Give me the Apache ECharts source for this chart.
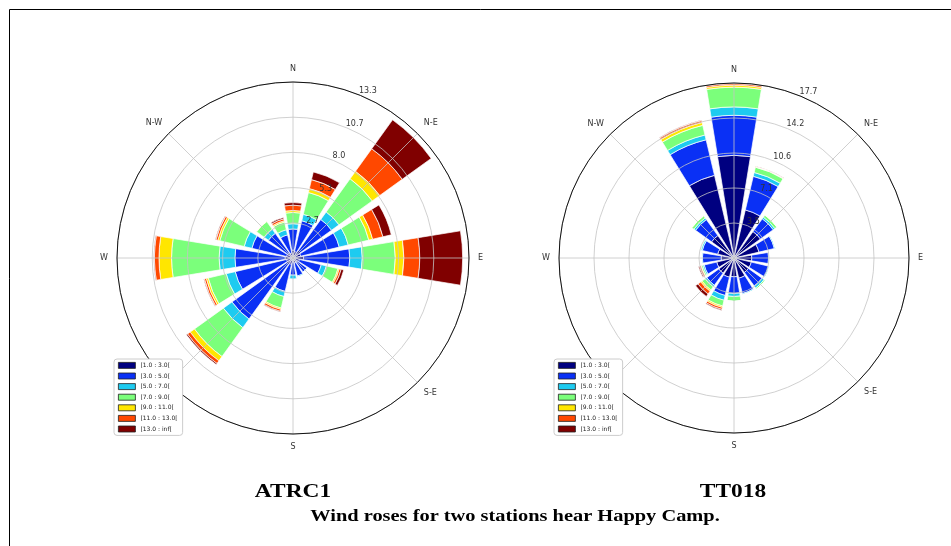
<!DOCTYPE html>
<html><head><meta charset="utf-8">
<script src="https://cdn.jsdelivr.net/npm/echarts@6/dist/echarts.min.js"></script>
<style>html,body{margin:0;padding:0;background:#fff}#c{width:951px;height:546px}</style>
</head><body><div id="c"></div>
<script>
// 16 wind directions (clockwise from North)
const directions = ['N','NNE','NE','ENE','E','ESE','SE','SSE','S','SSW','SW','WSW','W','WNW','NW','NNW'];
const compassLabels = ['N','N-E','E','S-E','S','S-W','W','N-W'];
const speedBins = ['[1.0 : 3.0[','[3.0 : 5.0[','[5.0 : 7.0[','[7.0 : 9.0[','[9.0 : 11.0[','[11.0 : 13.0[','[13.0 : inf['];
const binColors = ['#000080','#0a30f5','#1ecbf0','#7bff7b','#ffe600','#ff4800','#800000'];

// ATRC1 frequency (%) per speed bin, for each direction
const atrc1_b1 = [0.6,0.5,0.7,0.6,0.8,0.5,0.4,0.4,0.3,0.5,0.6,0.5,0.6,0.5,0.5,0.4];
const atrc1_b2 = [1.6,2.4,2.9,3.0,3.5,1.7,0.9,1.0,1.0,2.1,5.1,4.0,3.8,2.7,1.8,1.4];
const atrc1_b3 = [0.4,0.5,0.7,0.7,0.95,0.4,0.05,0.1,0.3,0.4,0.8,0.7,1.2,0.6,0.4,0.4];
const atrc1_b4 = [0.85,1.7,3.1,1.6,2.5,0.9,0,0,0.05,0.9,2.7,1.4,3.6,1.9,0.7,0.6];
const atrc1_b5 = [0.15,0.3,0.7,0.3,0.65,0.1,0,0,0,0.1,0.4,0.15,0.95,0.15,0.05,0.1];
const atrc1_b6 = [0.4,0.7,2.1,0.8,1.2,0.15,0,0,0,0.15,0.25,0.15,0.35,0.15,0,0.15];
const atrc1_b7 = [0.2,0.6,2.7,0.65,3.25,0.2,0,0,0,0.05,0.1,0.05,0.05,0.05,0,0.1];

// TT018 frequency (%) per speed bin, for each direction
const tt018_b1 = [10.4,5.0,3.3,2.6,1.8,1.8,1.8,2.1,1.9,2.0,1.9,1.8,1.3,1.7,2.8,8.6];
const tt018_b2 = [4.05,3.5,1.6,1.6,1.7,1.8,1.7,1.6,1.7,1.9,1.5,1.3,1.9,1.6,2.0,3.7];
const tt018_b3 = [0.85,0.4,0.2,0.1,0.1,0.1,0.25,0.1,0.3,0.5,0.2,0.15,0.1,0.15,0.2,0.5];
const tt018_b4 = [2.0,0.55,0.25,0.05,0.05,0.05,0.15,0.05,0.5,0.6,0.4,0.15,0.05,0.1,0.25,1.0];
const tt018_b5 = [0.2,0.05,0.05,0,0,0,0,0,0,0.15,0.15,0.05,0,0,0.05,0.3];
const tt018_b6 = [0.15,0.02,0,0,0,0,0,0,0,0.2,0.35,0.15,0,0,0,0.2];
const tt018_b7 = [0.05,0.03,0,0,0,0,0,0,0,0.1,0.3,0.1,0,0,0,0.05];

// radial ring steps (5 rings each)
const ringStepL = 2.666;
const ringStepR = 3.544;

const atrc1 = [atrc1_b1,atrc1_b2,atrc1_b3,atrc1_b4,atrc1_b5,atrc1_b6,atrc1_b7];
const tt018 = [tt018_b1,tt018_b2,tt018_b3,tt018_b4,tt018_b5,tt018_b6,tt018_b7];

const roses = [
  {center:[293,258], radius:176, step:ringStepL, data:atrc1, stack:'L', legendLeft:114},
  {center:[734,258], radius:175, step:ringStepR, data:tt018, stack:'R', legendLeft:554}
];

const polar = [], angleAxis = [], radiusAxis = [], series = [], legend = [];
roses.forEach((r, k) => {
  const max = r.step * 5;
  const base = k * 3;
  // 0: bars, 1: grid, 2: radial labels
  for (let j = 0; j < 3; j++) polar.push({center:r.center, radius:r.radius});
  angleAxis.push({polarIndex:base, type:'category', data:directions, startAngle:101.25, clockwise:true, show:false});
  radiusAxis.push({polarIndex:base, type:'value', min:0, max:max, show:false});
  angleAxis.push({polarIndex:base+1, type:'value', min:0, max:360, interval:45, startAngle:90, clockwise:true, z:5,
    axisLine:{show:true, lineStyle:{color:'#111', width:1}},
    axisTick:{show:false},
    axisLabel:{show:true, margin:9, fontSize:8, color:'#333', fontFamily:'DejaVu Sans',
      formatter: v => (v >= 360 ? '' : compassLabels[Math.round(v/45)])},
    splitLine:{show:true, lineStyle:{color:'#c4c4c4', width:0.8}}
  });
  radiusAxis.push({polarIndex:base+1, type:'value', min:0, max:max, interval:r.step, z:5,
    axisLine:{show:false}, axisTick:{show:false}, axisLabel:{show:false},
    splitLine:{show:true, lineStyle:{color:'#c4c4c4', width:0.8}}
  });
  angleAxis.push({polarIndex:base+2, type:'value', min:0, max:360, startAngle:68, show:false});
  radiusAxis.push({polarIndex:base+2, type:'value', min:0, max:max, interval:r.step, z:6,
    axisLine:{show:false}, axisTick:{show:false}, splitLine:{show:false},
    axisLabel:{show:true, margin:0, align:'left', verticalAlign:'bottom', fontSize:8, color:'#333', fontFamily:'DejaVu Sans',
      formatter: v => (v < 0.01 ? '' : v.toFixed(1))}
  });
  r.data.forEach((arr, i) => {
    series.push({type:'bar', coordinateSystem:'polar', polarIndex:base, name:speedBins[i], stack:r.stack,
      data:arr, barCategoryGap:'18%', itemStyle:{color:binColors[i], borderColor:'#fff', borderWidth:0.7},
      emphasis:{disabled:true}, animation:false});
  });
  legend.push({data:speedBins, orient:'vertical', left:r.legendLeft, top:359, itemWidth:17, itemHeight:6, itemGap:3.8,
    icon:'rect', selectedMode:false, z:10,
    textStyle:{fontSize:6, color:'#222', fontFamily:'DejaVu Sans'},
    backgroundColor:'#fff', borderColor:'#ccc', borderWidth:1, borderRadius:3, padding:[3,5,3,4],
    itemStyle:{borderColor:'#222', borderWidth:0.8}});
});

const chart = echarts.init(document.getElementById('c'), null, {renderer:'canvas'});
chart.setOption({
  animation:false,
  backgroundColor:'#fff',
  polar, angleAxis, radiusAxis, series, legend,
  graphic:[
    {type:'rect', silent:true, z:0, shape:{x:9.5, y:9.5, width:1000, height:600}, style:{fill:'none', stroke:'#000', lineWidth:1}},
    {type:'text', x:293, y:492, scaleX:1.3, z:10, style:{text:'ATRC1', fontSize:18, fontWeight:'bold', fontFamily:'Liberation Serif', fill:'#000', align:'center', verticalAlign:'middle'}},
    {type:'text', x:733, y:492, scaleX:1.3, z:10, style:{text:'TT018', fontSize:18, fontWeight:'bold', fontFamily:'Liberation Serif', fill:'#000', align:'center', verticalAlign:'middle'}},
    {type:'text', x:515, y:517, scaleX:1.2, z:10, style:{text:'Wind roses for two stations hear Happy Camp.', fontSize:17, fontWeight:'bold', fontFamily:'Liberation Serif', fill:'#000', align:'center', verticalAlign:'middle'}}
  ]
});
</script></body></html>
